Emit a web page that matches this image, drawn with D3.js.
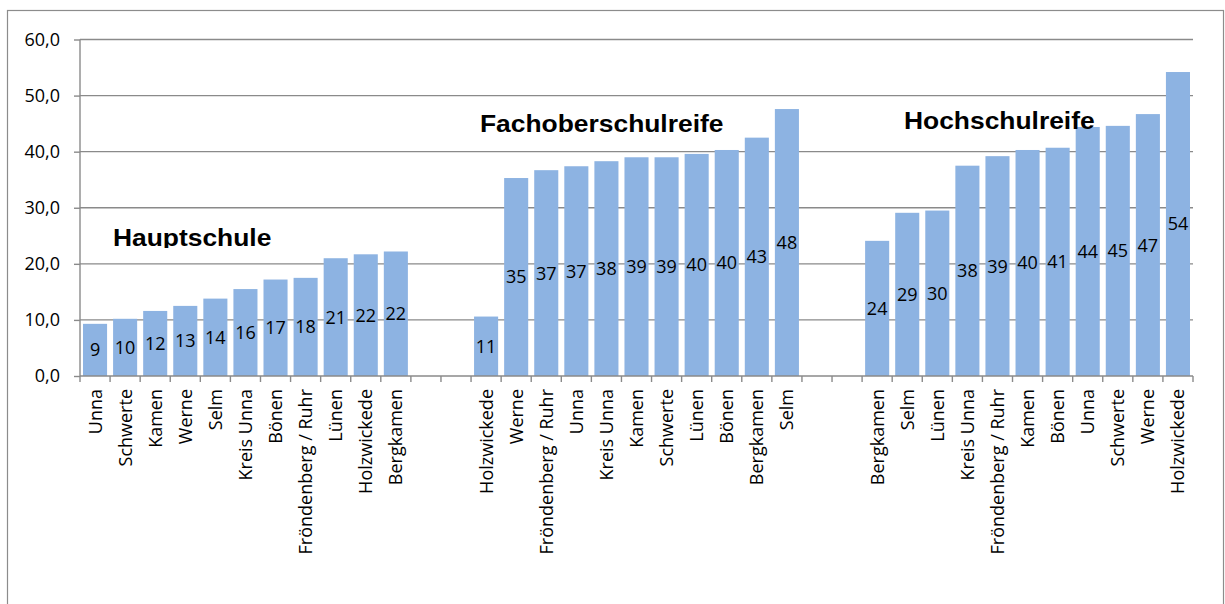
<!DOCTYPE html>
<html>
<head>
<meta charset="utf-8">
<script src="https://cdn.jsdelivr.net/npm/d3@7"></script>
<style>
  html, body { margin: 0; padding: 0; background: #fff; }
  svg { display: block; }
</style>
</head>
<body>
<svg id="chart" width="1225" height="604"></svg>
<script>
// Anteil (%) je Schulabschluss und Kommune, aufsteigend sortiert innerhalb der Gruppe
const groupTitles = ["Hauptschule", "Fachoberschulreife", "Hochschulreife"];

const hauptschuleCities = ["Unna", "Schwerte", "Kamen", "Werne", "Selm", "Kreis Unna", "Bönen", "Fröndenberg / Ruhr", "Lünen", "Holzwickede", "Bergkamen"];
const hauptschuleValues = [9.3, 10.2, 11.6, 12.5, 13.8, 15.5, 17.2, 17.5, 21.0, 21.7, 22.2];

const fachoberCities = ["Holzwickede", "Werne", "Fröndenberg / Ruhr", "Unna", "Kreis Unna", "Kamen", "Schwerte", "Lünen", "Bönen", "Bergkamen", "Selm"];
const fachoberValues = [10.6, 35.3, 36.7, 37.4, 38.3, 39.0, 39.0, 39.6, 40.3, 42.5, 47.6];

const hochschulCities = ["Bergkamen", "Selm", "Lünen", "Kreis Unna", "Fröndenberg / Ruhr", "Kamen", "Bönen", "Unna", "Schwerte", "Werne", "Holzwickede"];
const hochschulValues = [24.1, 29.1, 29.5, 37.5, 39.2, 40.3, 40.7, 44.4, 44.6, 46.7, 54.2];

const yTicks = [0, 10, 20, 30, 40, 50, 60];

// Flatten into one category axis, with two empty slots between the groups
const groups = [
  { cities: hauptschuleCities, values: hauptschuleValues },
  { cities: fachoberCities, values: fachoberValues },
  { cities: hochschulCities, values: hochschulValues }
];
const rows = [];
groups.forEach((g, gi) => {
  if (gi > 0) {
    rows.push({ key: "gap" + gi + "a", gap: true });
    rows.push({ key: "gap" + gi + "b", gap: true });
  }
  g.cities.forEach((c, i) => rows.push({ key: gi + "|" + c, city: c, value: g.values[i], group: gi }));
});
const bars = rows.filter(r => !r.gap);

const svg = d3.select("#chart");
const labelFont = "'Open Sans', sans-serif";
const labelSize = 18;

// outer chart frame
svg.append("rect")
  .attr("x", 7.5).attr("y", 10.5)
  .attr("width", 1216).attr("height", 620)
  .attr("fill", "#fff").attr("stroke", "#8c8c8c").attr("stroke-width", 1.2);

const plot = { left: 80, right: 1193, top: 39.5, bottom: 376 };

const x = d3.scaleBand()
  .domain(rows.map(r => r.key))
  .range([plot.left, plot.right])
  .paddingInner(0.2)
  .paddingOuter(0.1);

const y = d3.scaleLinear().domain([0, 60]).range([plot.bottom, plot.top]);

const fmt = v => d3.format(".1f")(v).replace(".", ",");

// horizontal gridlines
svg.append("g")
  .selectAll("line")
  .data(yTicks.filter(t => t > 0))
  .join("line")
  .attr("x1", plot.left).attr("x2", plot.right)
  .attr("y1", d => y(d)).attr("y2", d => y(d))
  .attr("stroke", "#8a8a8a").attr("stroke-width", 1.4);

// y axis
const yAxis = d3.axisLeft(y).tickValues(yTicks).tickFormat(fmt).tickSize(6).tickPadding(14);
const gy = svg.append("g").attr("transform", `translate(${plot.left},0)`).call(yAxis);
gy.select(".domain").attr("stroke", "#8a8a8a").attr("stroke-width", 1.4).attr("d", `M0,${plot.top}V${plot.bottom}`);
gy.selectAll(".tick line").attr("stroke", "#8a8a8a").attr("stroke-width", 1.4);
gy.selectAll(".tick text")
  .attr("font-family", labelFont)
  .attr("font-size", labelSize).attr("fill", "#000");

// bars
svg.append("g")
  .selectAll("rect")
  .data(bars)
  .join("rect")
  .attr("x", d => x(d.key))
  .attr("width", x.bandwidth())
  .attr("y", d => y(d.value))
  .attr("height", d => y(0) - y(d.value))
  .attr("fill", "#8db3e2");

// x axis: baseline and ticks at slot boundaries
const step = x.step();
const x0 = x(rows[0].key) - step * 0.1;
const boundaries = d3.range(rows.length + 1).map(i => x0 + i * step);
svg.append("line")
  .attr("x1", plot.left).attr("x2", plot.right)
  .attr("y1", plot.bottom).attr("y2", plot.bottom)
  .attr("stroke", "#8a8a8a").attr("stroke-width", 1.4);
svg.append("g")
  .selectAll("line")
  .data(boundaries)
  .join("line")
  .attr("x1", d => d).attr("x2", d => d)
  .attr("y1", plot.bottom).attr("y2", plot.bottom + 6)
  .attr("stroke", "#8a8a8a").attr("stroke-width", 1.4);

// category labels, rotated
svg.append("g")
  .selectAll("text")
  .data(bars)
  .join("text")
  .attr("transform", d => `translate(${x(d.key) + x.bandwidth() / 2 + 6.5},${plot.bottom + 13}) rotate(-90)`)
  .attr("text-anchor", "end")
  .attr("font-family", labelFont)
  .attr("font-size", labelSize)
  .attr("fill", "#000")
  .text(d => d.city);

// value labels centred in the bars
svg.append("g")
  .selectAll("text")
  .data(bars)
  .join("text")
  .attr("x", d => x(d.key) + x.bandwidth() / 2)
  .attr("y", d => (y(d.value) + y(0)) / 2)
  .attr("dy", "0.36em")
  .attr("text-anchor", "middle")
  .attr("font-family", labelFont)
  .attr("font-size", labelSize)
  .attr("fill", "#000")
  .text(d => d3.format(".0f")(d.value));

// group titles (slightly widened bold face)
const titlePos = [
  { x: 113, y: 246 },
  { x: 480, y: 132 },
  { x: 904, y: 129 }
];
const defs = svg.append("defs");
defs.append("clipPath").attr("id", "title0clip")
  .append("rect").attr("x", 0).attr("y", 190).attr("width", 320).attr("height", 58);

svg.append("g")
  .selectAll("g")
  .data(groupTitles)
  .join("g")
  .attr("clip-path", (d, i) => i === 0 ? "url(#title0clip)" : null)
  .append("text")
  .attr("transform", (d, i) => `translate(${titlePos[i].x},${titlePos[i].y}) scale(1.1,1)`)
  .attr("font-family", "'Liberation Sans', Arial, sans-serif")
  .attr("font-weight", "bold")
  .attr("font-size", 24)
  .attr("fill", "#000")
  .text(d => d);
</script>
</body>
</html>
